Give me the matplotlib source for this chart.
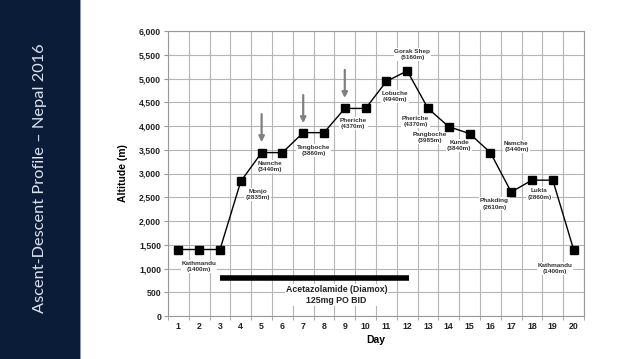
import matplotlib
matplotlib.use("Agg")
import matplotlib.pyplot as plt
from matplotlib.patches import Rectangle

days = list(range(1, 21))
altitude = [1400, 1400, 1400, 2835, 3440, 3440, 3860, 3860, 4370, 4370,
            4940, 5160, 4370, 3985, 3840, 3440, 2610, 2860, 2860, 1400]

label_texts = ["Kathmandu\n(1400m)", "Monjo\n(2835m)", "Namche\n(3440m)",
               "Tengboche\n(3860m)", "Pheriche\n(4370m)", "Lobuche\n(4940m)",
               "Gorak Shep\n(5160m)", "Pheriche\n(4370m)", "Pangboche\n(3985m)",
               "Kunde\n(3840m)", "Namche\n(3440m)", "Phakding\n(2610m)",
               "Lukla\n(2860m)", "Kathmandu\n(1400m)"]
label_x = [2.0, 4.8, 5.4, 7.5, 9.4, 11.4, 12.25, 12.4, 13.1, 14.5, 17.25, 16.2, 18.35, 19.1]
label_y = [1050, 2560, 3150, 3485, 4050, 4620, 5505, 4095, 3760, 3590, 3570, 2360, 2570, 1000]

arrow_days = [5, 7, 9]
arrow_top = [4250, 4650, 5180]
arrow_tip = [3660, 4060, 4590]

diamox_start, diamox_end, diamox_level = 3, 12.1, 800
diamox_text = "Acetazolamide (Diamox)\n125mg PO BID"

yticks = list(range(0, 6001, 500))

plt.rcParams['font.family'] = ['Liberation Sans', 'DejaVu Sans']

fig = plt.figure(figsize=(6.38, 3.59), dpi=100)
fig.patch.set_facecolor('white')

# left title band
fig.patches.append(Rectangle((0, 0), 80 / 638, 1, transform=fig.transFigure,
                             facecolor='#0b1c38', edgecolor='none', zorder=0))
fig.patches.append(Rectangle((80 / 638, 0), 1.2 / 638, 1, transform=fig.transFigure,
                             facecolor='#8a9bb0', edgecolor='none', zorder=0))
fig.text(40 / 638, 0.505, "Ascent-Descent Profile \u2013 Nepal 2016", rotation=90,
         color='#dde3ee', fontsize=11.8, ha='center', va='center',
         family=['Lato', 'DejaVu Sans'])

ax = fig.add_axes([168 / 638, 1 - 316 / 359, (584 - 168) / 638, (316 - 31) / 359])
ax.set_xlim(0.5, 20.5)
ax.set_ylim(0, 6000)

ax.plot(days, altitude, color='black', lw=1, marker='s', markersize=6,
        markerfacecolor='black', markeredgecolor='black', zorder=4)

for t, x, y in zip(label_texts, label_x, label_y):
    ax.text(x, y, t, fontsize=4.6, fontweight='bold', color='#333333',
            ha='center', va='center', linespacing=1.3, zorder=3,
            bbox=dict(facecolor='white', edgecolor='none', pad=0.6))

for d, top, tip in zip(arrow_days, arrow_top, arrow_tip):
    ax.annotate("", xy=(d, tip), xytext=(d, top),
                arrowprops=dict(arrowstyle='-|>', color='#808080', lw=1.6,
                                mutation_scale=8, shrinkA=0, shrinkB=0), zorder=3)

ax.plot([diamox_start, diamox_end], [diamox_level, diamox_level], color='black',
        lw=4, solid_capstyle='butt', zorder=3)
ax.text(8.6, 440, diamox_text, fontsize=6.3, fontweight='bold', color='#222222',
        ha='center', va='center', linespacing=1.35, zorder=3,
        bbox=dict(facecolor='white', edgecolor='none', pad=0.8))

ax.set_yticks(yticks)
ax.set_yticklabels([f"{v:,}" for v in yticks], fontsize=6.3, fontweight='bold', color='#222222')
ax.set_xticks(days)
ax.set_xticklabels([str(d) for d in days], fontsize=6.3, fontweight='bold', color='#222222')
ax.set_xticks([d + 0.5 for d in range(0, 21)], minor=True)
ax.tick_params(axis='x', which='major', length=0, pad=4)
ax.tick_params(axis='x', which='minor', length=3, color='#999999', direction='out')
ax.tick_params(axis='y', length=3, color='#999999', pad=2)

ax.grid(True, which='minor', axis='x', color='#b5b5b5', lw=0.8)
ax.grid(True, which='major', axis='y', color='#b5b5b5', lw=0.8)
ax.set_axisbelow(True)
for s in ax.spines.values():
    s.set_color('#999999')
    s.set_linewidth(0.8)

ax.set_ylabel("Altitude (m)", fontsize=7.5, fontweight='bold', labelpad=8)
ax.set_xlabel("Day", fontsize=7.5, fontweight='bold', labelpad=3)

fig.savefig("out.png", dpi=100)
